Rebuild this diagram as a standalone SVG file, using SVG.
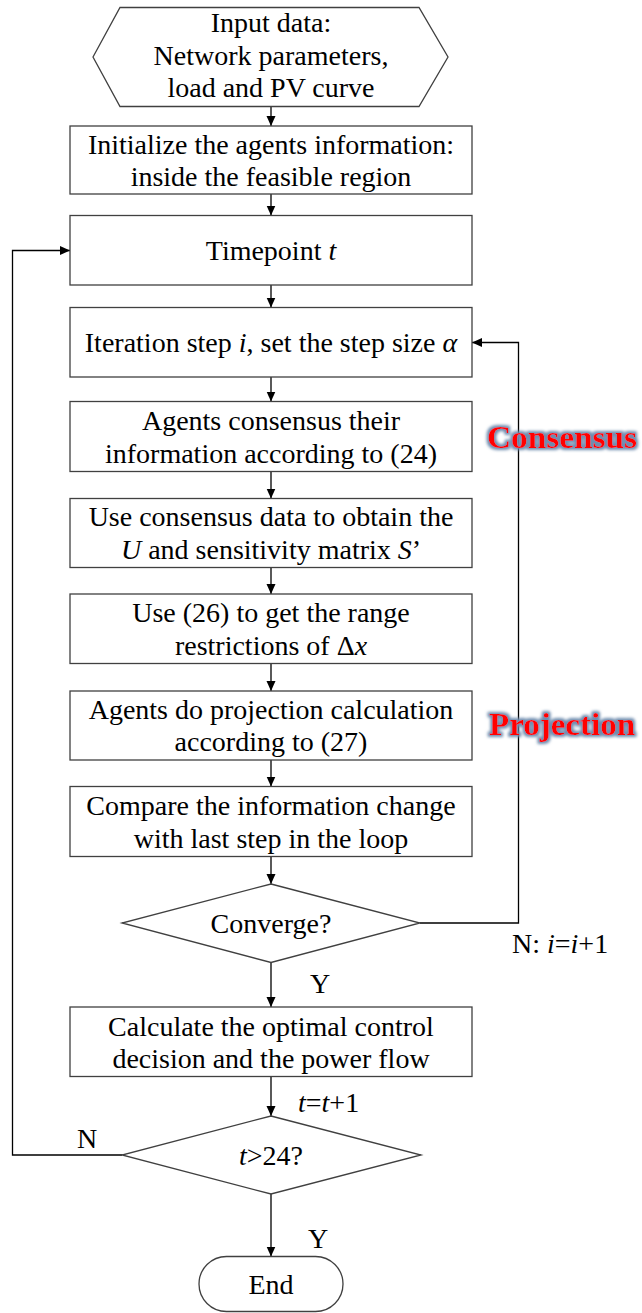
<svg xmlns="http://www.w3.org/2000/svg" width="642" height="1313" viewBox="0 0 642 1313">
<style>
.node{fill:#fff;stroke:#404040;stroke-width:1.3}
.t{font-family:"Liberation Serif","Times New Roman",serif;font-size:28px;fill:#000;text-anchor:middle}
.lbl{font-family:"Liberation Serif","Times New Roman",serif;font-size:28px;fill:#000}
.i{font-style:italic}
.conn{fill:none;stroke:#000;stroke-width:1.3}
.tag{font-family:"Liberation Serif","Times New Roman",serif;font-size:32px;font-weight:bold;fill:#ff0000;filter:url(#glow)}
</style>
<defs>
<marker id="arr" markerWidth="10" markerHeight="10" refX="10" refY="4.5" orient="auto" markerUnits="userSpaceOnUse">
<path d="M0,0 L10,4.5 L0,9 z" fill="#000"/>
</marker>
<filter id="glow" x="-10%" y="-30%" width="120%" height="160%">
<feMorphology in="SourceAlpha" operator="dilate" radius="1.6" result="d"/>
<feGaussianBlur in="d" stdDeviation="1.8" result="b"/>
<feFlood flood-color="#6e8cae"/>
<feComposite in2="b" operator="in" result="g"/>
<feMerge><feMergeNode in="g"/><feMergeNode in="SourceGraphic"/></feMerge>
</filter>
</defs>
<rect width="642" height="1313" fill="#fff"/>

<g id="connectors">
<line class="conn" x1="271" y1="107" x2="271" y2="126" marker-end="url(#arr)"/>
<line class="conn" x1="271" y1="194" x2="271" y2="215.5" marker-end="url(#arr)"/>
<line class="conn" x1="271" y1="285" x2="271" y2="307.5" marker-end="url(#arr)"/>
<line class="conn" x1="271" y1="377" x2="271" y2="401.5" marker-end="url(#arr)"/>
<line class="conn" x1="271" y1="471.5" x2="271" y2="498.5" marker-end="url(#arr)"/>
<line class="conn" x1="271" y1="567.5" x2="271" y2="594" marker-end="url(#arr)"/>
<line class="conn" x1="271" y1="663.5" x2="271" y2="691" marker-end="url(#arr)"/>
<line class="conn" x1="271" y1="760" x2="271" y2="786.5" marker-end="url(#arr)"/>
<line class="conn" x1="271" y1="856.5" x2="271" y2="884" marker-end="url(#arr)"/>
<line class="conn" x1="271" y1="962.5" x2="271" y2="1007" marker-end="url(#arr)"/>
<line class="conn" x1="271" y1="1076.5" x2="271" y2="1116" marker-end="url(#arr)"/>
<line class="conn" x1="271" y1="1194" x2="271" y2="1256.5" marker-end="url(#arr)"/>
<polyline class="conn" points="420,923 518.5,923 518.5,342.5 472,342.5" marker-end="url(#arr)"/>
<polyline class="conn" points="122,1155 12.5,1155 12.5,250.5 70,250.5" marker-end="url(#arr)"/>
<text class="lbl" x="310" y="993">Y</text>
<text class="lbl" x="512" y="953">N: <tspan class="i">i</tspan>=<tspan class="i">i</tspan>+1</text>
<text class="lbl" x="298" y="1112"><tspan class="i">t</tspan>=<tspan class="i">t</tspan>+1</text>
<text class="lbl" x="77" y="1148">N</text>
<text class="lbl" x="308" y="1248">Y</text>
</g>

<g id="input">
<polygon class="node" points="93,57 120,7.5 419,7.5 448,57 419,106.5 120,106.5"/>
<text class="t" x="271" y="32">Input data:</text>
<text class="t" x="271" y="64.5">Network parameters,</text>
<text class="t" x="271" y="97">load and PV curve</text>
</g>

<g id="init">
<rect class="node" x="70" y="126" width="402" height="68"/>
<text class="t" x="271" y="153.5">Initialize the agents information:</text>
<text class="t" x="271" y="186">inside the feasible region</text>
</g>

<g id="timepoint">
<rect class="node" x="70" y="215.5" width="402" height="69.5"/>
<text class="t" x="271" y="260">Timepoint <tspan class="i">t</tspan></text>
</g>

<g id="iteration">
<rect class="node" x="70" y="307.5" width="402" height="69.5"/>
<text class="t" x="271" y="352">Iteration step <tspan class="i">i</tspan>, set the step size <tspan class="i">α</tspan></text>
</g>

<g id="consensus">
<rect class="node" x="70" y="401.5" width="402" height="70"/>
<text class="t" x="271" y="430">Agents consensus their</text>
<text class="t" x="271" y="462.5">information according to (24)</text>
</g>

<g id="sensitivity">
<rect class="node" x="70" y="498.5" width="402" height="69"/>
<text class="t" x="271" y="526">Use consensus data to obtain the</text>
<text class="t" x="271" y="558.5"><tspan class="i">U</tspan> and sensitivity matrix <tspan class="i">S</tspan>’</text>
</g>

<g id="range">
<rect class="node" x="70" y="594" width="402" height="69.5"/>
<text class="t" x="271" y="622">Use (26) to get the range</text>
<text class="t" x="271" y="654.5">restrictions of Δ<tspan class="i">x</tspan></text>
</g>

<g id="projection">
<rect class="node" x="70" y="691" width="402" height="69"/>
<text class="t" x="271" y="718.5">Agents do projection calculation</text>
<text class="t" x="271" y="751">according to (27)</text>
</g>

<g id="compare">
<rect class="node" x="70" y="786.5" width="402" height="70"/>
<text class="t" x="271" y="815">Compare the information change</text>
<text class="t" x="271" y="847.5">with last step in the loop</text>
</g>

<g id="converge">
<polygon class="node" points="271,884 420,923 271,962.5 122,923"/>
<text class="t" x="271" y="932.5">Converge?</text>
</g>

<g id="calculate">
<rect class="node" x="70" y="1007" width="402" height="69.5"/>
<text class="t" x="271" y="1035.5">Calculate the optimal control</text>
<text class="t" x="271" y="1068">decision and the power flow</text>
</g>

<g id="tcheck">
<polygon class="node" points="271,1116 421,1155 271,1194 122,1155"/>
<text class="t" x="271" y="1164.5"><tspan class="i">t</tspan>&gt;24?</text>
</g>

<g id="end">
<rect class="node" x="199" y="1256.5" width="144" height="55" rx="27.5" ry="27.5"/>
<text class="t" x="271" y="1294">End</text>
</g>

<g id="tags">
<text class="tag" x="487" y="448" textLength="150" lengthAdjust="spacingAndGlyphs">Consensus</text>
<text class="tag" x="489" y="735" textLength="146" lengthAdjust="spacingAndGlyphs">Projection</text>
</g>
</svg>
